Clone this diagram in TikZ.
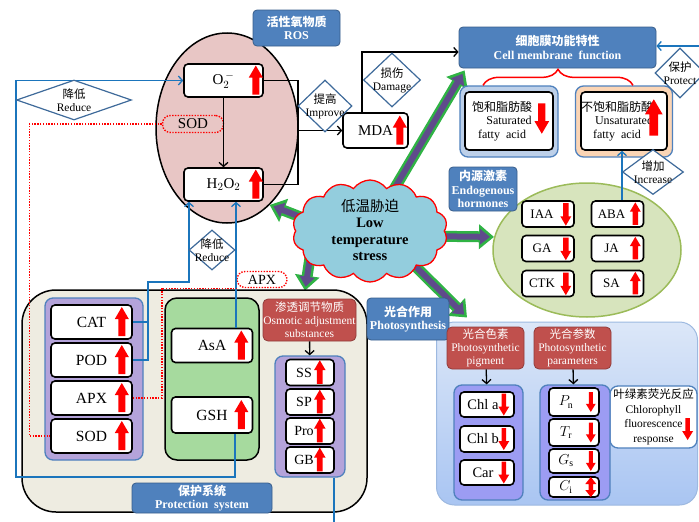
\documentclass[tikz,border=0pt]{standalone}
\usepackage{fontspec}
\setmainfont{Liberation Serif}
\newfontfamily\cjk{Noto Sans CJK SC}
\usetikzlibrary{shapes.geometric,shapes.symbols,arrows.meta,decorations.pathreplacing,backgrounds}

\definecolor{lblue}{HTML}{4F81BD}
\definecolor{lbdraw}{HTML}{385D8A}
\definecolor{cblue}{HTML}{1B75BC}
\definecolor{dblue}{HTML}{3E6A9A}
\definecolor{rospink}{HTML}{E8C6C5}
\definecolor{cloudblue}{HTML}{93CDDD}
\definecolor{fpurple}{HTML}{5F4B8B}
\definecolor{fgreen}{HTML}{2FB344}
\definecolor{hormfill}{HTML}{D7E4BD}
\definecolor{hormdraw}{HTML}{9BBB59}
\definecolor{satfill}{HTML}{BDD0E9}
\definecolor{unsfill}{HTML}{FBD5B5}
\definecolor{protfill}{HTML}{EEECE1}
\definecolor{lav}{HTML}{B4A3DA}
\definecolor{asagreen}{HTML}{A6DA9E}
\definecolor{dred}{HTML}{C0504D}
\definecolor{pstop}{HTML}{DCE7F8}
\definecolor{psbot}{HTML}{A9C5F2}
\definecolor{psdraw}{HTML}{9DB9E0}
\definecolor{grpfill}{HTML}{9C9CF3}

\newcommand{\fatarrow}[2]{%
  \draw[fat] (#1) -- (#2);
  \draw[fatin] (#1) -- (#2);}

\tikzset{
  >={Straight Barb[length=4pt,width=9pt]},
  title/.style={rectangle, rounded corners=4pt, fill=lblue, draw=lbdraw, line width=.8pt, text=white,
    align=center, inner sep=0pt, font=\bfseries\fontsize{12}{13.5}\selectfont},
  redlbl/.style={rectangle, rounded corners=5pt, fill=dred, draw=dred!75!black, line width=.8pt, text=white,
    align=center, inner sep=0pt, font=\fontsize{11.5}{13}\selectfont},
  item/.style={rectangle, rounded corners=4pt, draw, line width=1.6pt, fill=white, inner sep=0pt},
  grp/.style={rectangle, rounded corners=8pt, draw=lblue, line width=1.3pt},
  diam/.style={diamond, draw=dblue, line width=1.2pt, fill=white, inner sep=0pt},
  dtxt/.style={align=center, font=\fontsize{11.5}{13}\selectfont, inner sep=0pt},
  dotlbl/.style={draw=red, line width=1.4pt, dash pattern=on 1.4pt off 1.4pt, rounded corners=8pt, inner sep=0pt},
  conn/.style={cblue, line width=1.3pt},
  blk/.style={black, line width=1.3pt},
  reddot/.style={red, line width=1.4pt, dash pattern=on 1.4pt off 1.4pt},
  fat/.style={fgreen, line width=11pt, shorten <=-8pt, -{Triangle[length=15pt,width=24pt]}},
  fatin/.style={fpurple, line width=6pt, shorten <=-8pt, shorten >=4pt, -{Triangle[length=10pt,width=15pt]}},
  uarr/.pic={\fill[red] (-3.5,14) -- (3.5,14) -- (3.5,-3) -- (7,-3) -- (0,-15) -- (-7,-3) -- (-3.5,-3) -- cycle;},
  darr/.pic={\fill[red] (-3.5,-14) -- (3.5,-14) -- (3.5,3) -- (7,3) -- (0,15) -- (-7,3) -- (-3.5,3) -- cycle;},
  tdarr/.pic={\fill[red] (-2.2,-11) -- (2.2,-11) -- (2.2,2) -- (5.5,2) -- (0,11) -- (-5.5,2) -- (-2.2,2) -- cycle;},
  tudarr/.pic={\fill[red] (0,-10) -- (5.5,-3) -- (2.2,-3) -- (2.2,3) -- (5.5,3) -- (0,10) -- (-5.5,3) -- (-2.2,3) -- (-2.2,-3) -- (-5.5,-3) -- cycle;}
}

\begin{document}
\begin{tikzpicture}[x=1pt, y=-1pt]
  \useasboundingbox (0,0) rectangle (699,522);

  \node[rectangle, rounded corners=34pt, draw, line width=1.5pt, fill=protfill,
        minimum width=345, minimum height=222] (prot) at (194.5, 401) {};
  \node[rectangle, rounded corners=18pt, draw=psdraw, line width=1pt, top color=pstop, bottom color=psbot,
        minimum width=261, minimum height=183] (psr) at (567, 413.5) {};
  \node[ellipse, draw, line width=1.5pt, fill=rospink, minimum width=142, minimum height=190] (ros) at (227, 128) {};
  \node[ellipse, draw=hormdraw, line width=1.5pt, fill=hormfill, minimum width=188, minimum height=134] (horm) at (587, 250) {};

  \begin{scope}[every node/.style={title}]
    \node[minimum width=87, minimum height=36] (rosl) at (296.5, 28) {{\cjk 活性氧物质}\\ROS};
    \node[minimum width=197, minimum height=41] (cm) at (557.5, 47.5) {{\cjk 细胞膜功能特性}\\Cell membrane\ \ function};
    \node[minimum width=68, minimum height=44] (endl) at (483, 189) {{\cjk 内源激素}\\Endogenous\\hormones};
    \node[minimum width=82, minimum height=42] (photol) at (408, 319) {{\cjk 光合作用}\\Photosynthesis};
    \node[minimum width=140, minimum height=30] (protl) at (202, 498) {{\cjk 保护系统}\\Protection\ \ system};
  \end{scope}

  \begin{scope}[every node/.style={redlbl}]
    \node[minimum width=93, minimum height=42] (osl) at (309.5, 320) {{\cjk 渗透调节物质}\\Osmotic adjustment\\substances};
    \node[minimum width=77, minimum height=42] (pigl) at (485.5, 348) {{\cjk 光合色素}\\Photosynthetic\\pigment};
    \node[minimum width=77, minimum height=42] (parl) at (572.5, 348) {{\cjk 光合参数}\\Photosynthetic\\parameters};
  \end{scope}

  \node[grp, fill=lav, minimum width=98, minimum height=162] (enzg) at (94, 379) {};
  \node[rectangle, rounded corners=12pt, draw, line width=1.5pt, fill=asagreen,
        minimum width=94, minimum height=162] (asag) at (212, 379) {};
  \node[grp, fill=lav, minimum width=70, minimum height=121] (osg) at (310, 416.5) {};
  \node[grp, fill=satfill, minimum width=98, minimum height=71] (satout) at (509, 121.5) {};
  \node[grp, fill=unsfill, minimum width=97, minimum height=71] (unsout) at (624, 121.5) {};
  \node[rectangle, rounded corners=8pt, draw=lblue, line width=1.3pt, fill=white, minimum width=87, minimum height=62,
        align=center, inner sep=0pt, font=\fontsize{11.5}{14.5}\selectfont] (fluo) at (653.5, 417)
        {{\cjk 叶绿素荧光反应}\\Chlorophyll\\fluorescence\\response};
  \node[grp, fill=grpfill, minimum width=69, minimum height=115] (pigg) at (488.5, 442.5) {};
  \node[grp, fill=grpfill, minimum width=70, minimum height=115] (parg) at (575, 442.5) {};

  \begin{scope}[every node/.style={item, minimum width=81, minimum height=34, font=\fontsize{15.5}{17}\selectfont}]
    \node (cat) at (91.5, 322) {CAT};
    \node (pod) at (91.5, 360) {POD};
    \node (apx) at (91.5, 398) {APX};
    \node (sod) at (91.5, 436) {SOD};
    \node (asa) at (212, 345.5) {AsA};
    \node[minimum height=36] (gsh) at (212, 415) {GSH};
  \end{scope}

  \begin{scope}[every node/.style={item, minimum width=79, minimum height=33, font=\fontsize{15}{17}\selectfont}]
    \node (o2) at (223.5, 80.5) {O$_2^{\,-}$};
    \node (h2o2) at (223.5, 184.5) {H$_2$O$_2$};
    \node[minimum width=65, minimum height=35] (mda) at (375.5, 130.5) {MDA};
  \end{scope}

  \begin{scope}[every node/.style={item, minimum height=58, align=center, font=\fontsize{12}{13.5}\selectfont}]
    \node[minimum width=88] (sat) at (509, 121) {{\cjk 饱和脂肪酸}\hspace*{14pt}\\Saturated\hspace*{14pt}\\fatty\ \ acid\hspace*{14pt}};
    \node[minimum width=86] (uns) at (624, 121) {{\cjk 不饱和脂肪酸}\hspace*{14pt}\\Unsaturated\hspace*{14pt}\\fatty\ \ acid\hspace*{14pt}};
  \end{scope}

  \begin{scope}[every node/.style={item, minimum width=52, minimum height=26, font=\fontsize{13}{15}\selectfont,
                execute at end node={\hspace*{12pt}}}]
    \node (iaa) at (548, 214) {IAA};
    \node (ga) at (548, 248.5) {GA};
    \node (ctk) at (548, 283.5) {CTK};
    \node (aba) at (617.5, 214) {ABA};
    \node (ja) at (617.5, 248.5) {JA};
    \node (sa) at (617.5, 283.5) {SA};
  \end{scope}

  \begin{scope}[every node/.style={item, minimum width=48, minimum height=26, font=\fontsize{14}{16}\selectfont,
                execute at end node={\hspace*{12pt}}}]
    \node (ss) at (310, 372.5) {SS};
    \node (sp) at (310, 402) {SP};
    \node (pro) at (310, 431) {Pro};
    \node (gb) at (310, 460) {GB};
  \end{scope}

  \begin{scope}[every node/.style={item, minimum width=54, font=\fontsize{14.5}{16}\selectfont,
                execute at end node={\hspace*{8pt}}}]
    \node[minimum height=25] (chla) at (487, 404.5) {Chl a};
    \node[minimum height=26] (chlb) at (487, 439) {Chl b};
    \node[minimum height=25] (car) at (487, 472.5) {Car};
  \end{scope}

  \begin{scope}[every node/.style={item, minimum width=50, font=\fontsize{14}{16}\selectfont,
                execute at end node={\hspace*{16pt}}}]
    \node[minimum height=28] (pn) at (574, 402) {$P_{\mathrm{n}}$};
    \node[minimum height=27] (tr) at (574, 432.5) {$T_{\mathrm{r}}$};
    \node[minimum height=24] (gs) at (574, 461) {$G_{\mathrm{s}}$};
    \node[minimum height=20] (ci) at (574, 487) {$C_{\mathrm{i}}$};
  \end{scope}

  \node[dotlbl, minimum width=61, minimum height=17, font=\fontsize{15}{17}\selectfont] (sodl) at (193, 124) {SOD};
  \node[dotlbl, minimum width=50, minimum height=16, font=\fontsize{14}{16}\selectfont] (apxl) at (262, 279.5) {APX};

  \node[cloud, cloud puffs=14, cloud puff arc=110, cloud ignores aspect, draw=red, line width=1.3pt, fill=cloudblue,
        minimum width=155, minimum height=102, inner sep=0pt] (cloud) at (370, 231) {};
  \node[align=center, font=\fontsize{14.5}{16.5}\selectfont] (stress) at (370, 230)
        {{\cjk 低温胁迫}\\\textbf{Low}\\\textbf{temperature}\\\textbf{stress}};

  \coordinate (br) at (298, 130.5);
  \coordinate (j1) at (148, 282);
  \coordinate (pr) at (699, 46);
  \coordinate (osend) at (334, 522);

  \draw[blk, ->] (o2) -- (h2o2);
  \draw[blk] (o2.east) -| (br) |- (h2o2.east);
  \draw[blk, ->] (br) -- (mda);
  \draw[blk, ->] ([xshift=-13.5pt]mda.north) |- ([yshift=-4.5pt]cm.west);
  \draw[blk, ->] (osl) -- (osg);
  \draw[blk, ->] (pigl) -- (pigg);
  \draw[blk, ->] (parl) -- (parg);

  \draw[conn, ->] (pr) -- (pr -| cm.east);
  \draw[conn, ->] (aba.north -| 622,0) -- (uns.south -| 622,0);
  \draw[conn, ->] (gsh.south -| 235,0) |- (16,477) |- (o2.west);
  \draw[conn] (cat.east) -- (cat.east -| j1);
  \draw[conn, ->] (pod.east) -| (j1) -| ([xshift=-34.5pt]h2o2.south);
  \draw[conn, ->] (asa.north -| 236,0) -- (h2o2.south -| 236,0);
  \draw[conn] (osg.south -| osend) -- (osend);

  \draw[reddot] (sodl.west) -| ([xshift=-21pt]sod.west) -- (sod.west);
  \draw[reddot] (apx.east) -- ++(29,0) |- (apxl.south west);

  \draw[red, line width=1.5pt, decorate, decoration={brace, amplitude=16pt}]
    ([xshift=-26pt]satout.north) -- ([xshift=9pt]unsout.north);

  \node[diam, minimum width=115, minimum height=40, label={[dtxt]center:{\cjk 降低}\\Reduce}] (dred1) at (74, 100) {};
  \node[diam, minimum width=46, minimum height=40, label={[dtxt]center:{\cjk 降低}\\Reduce}] (dred2) at (212, 250) {};
  \node[diam, minimum width=54, minimum height=52, label={[dtxt]center:{\cjk 提高}\\Improve}] (dimp) at (325, 106) {};
  \node[diam, minimum width=57, minimum height=54, label={[dtxt]center:{\cjk 损伤}\\Damage}] (ddam) at (392, 80) {};
  \node[diam, minimum width=50, minimum height=50, label={[dtxt]center:{\cjk 保护}\\Protect}] (dpro) at (680, 73) {};
  \node[diam, minimum width=61, minimum height=45, label={[dtxt]center:{\cjk 增加}\\Increase}] (dinc) at (653, 172) {};

  \foreach \n in {cat, pod, apx, sod} \pic at ([xshift=-11pt]\n.east) {uarr};
  \foreach \n in {asa, gsh} \pic at ([xshift=-12pt]\n.east) {uarr};
  \foreach \n in {o2, h2o2} \pic at ([xshift=-8pt]\n.east) {uarr};
  \pic at ([xshift=-9pt]mda.east) {uarr};
  \foreach \n in {ss, sp, pro, gb} \pic[scale=.82] at ([xshift=-15pt]\n.east) {uarr};
  \foreach \n in {iaa, ga, ctk} \pic[scale=.78] at ([xshift=-9pt]\n.east) {darr};
  \foreach \n in {aba, ja, sa} \pic[scale=.78] at ([xshift=-9pt]\n.east) {uarr};
  \foreach \n in {chla, chlb, car} \pic at ([xshift=-11pt]\n.east) {tdarr};
  \foreach \n in {pn, tr, gs} \pic[scale=.9] at ([xshift=-9pt]\n.east) {tdarr};
  \pic at ([xshift=-9pt]ci.east) {tudarr};
  \pic at ([xshift=-10pt, yshift=-12pt]fluo.east) {tdarr};
  \pic[scale=1.05] at ([xshift=-12pt, yshift=3pt]sat.east) {darr};
  \pic[scale=1.25] at ([xshift=-14pt, yshift=3pt]uns.east) {uarr};

  \begin{pgfonlayer}{background}
    \fatarrow{cloud.168}{ros.-61}
    \fatarrow{cloud.60}{[xshift=6pt, yshift=-2pt]cm.south west}
    \fatarrow{cloud.208}{[xshift=-4.5pt, yshift=8pt]osl.north}
    \fatarrow{cloud.-4}{horm.172}
    \fatarrow{cloud.-38}{[xshift=31pt, yshift=4pt]psr.north west}
  \end{pgfonlayer}
\end{tikzpicture}
\end{document}
